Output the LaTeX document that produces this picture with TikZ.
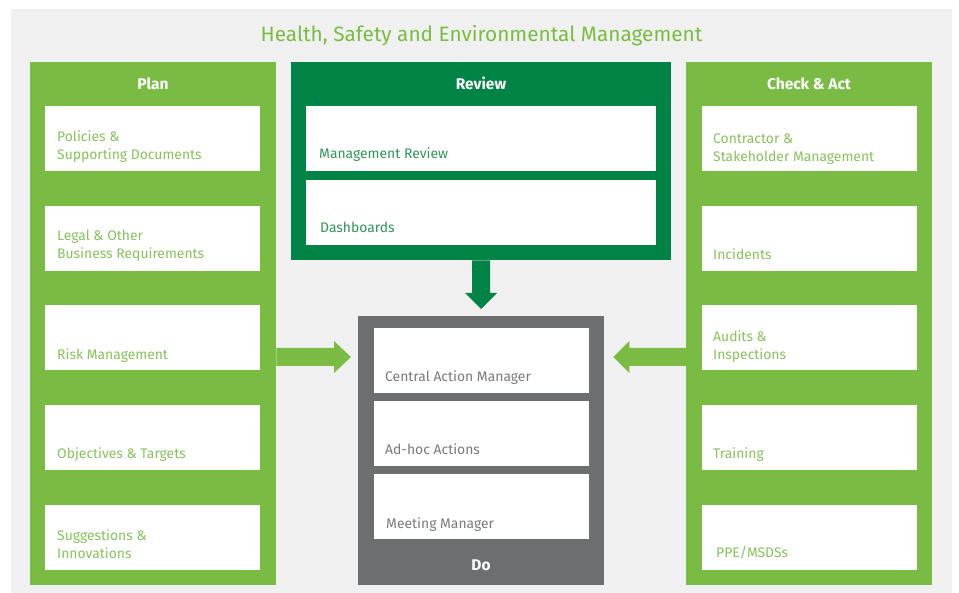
\documentclass[tikz,border=0pt]{standalone}
\usepackage{fontspec}
\setmainfont{Fira Sans}
\usetikzlibrary{calc}
\definecolor{bgc}{HTML}{F0F0F0}
\definecolor{lgreen}{HTML}{7ABC43}
\definecolor{dgreen}{HTML}{008445}
\definecolor{dogray}{HTML}{6D6E70}
\definecolor{ltxt}{HTML}{86C35B}
\definecolor{dtxt}{HTML}{2E9659}
\definecolor{gtxt}{HTML}{7A7A7A}
\begin{document}
\begin{tikzpicture}[x=1pt,y=-1pt,
  panel/.style={draw=none,inner sep=0,anchor=north west},
  wbox/.style={fill=white,draw=none,inner sep=0,anchor=north west,minimum height=65pt},
  hdr/.style={text=white,font=\fontsize{15.5}{18}\selectfont\bfseries,inner sep=0,anchor=base},
  btxt/.style={inner sep=0,anchor=south west,text depth=0pt,align=left,font=\fontsize{13.9}{18}\selectfont},
  ltext/.style={btxt,text=ltxt},
  rtext/.style={btxt,text=dtxt},
  dtext/.style={btxt,text=gtxt}
]
\useasboundingbox (0,0) rectangle (959,593);
\fill[bgc] (11,9) rectangle (952,593);
\node[inner sep=0,anchor=base,text=lgreen,font=\fontsize{20.8}{24}\selectfont] (title) at (481.5,42) {Health, Safety and Environmental Management};

% panels
\node[panel,fill=lgreen,minimum width=246pt,minimum height=523pt] (plan) at (30,62) {};
\node[panel,fill=dgreen,minimum width=380pt,minimum height=198pt] (review) at (291,62) {};
\node[panel,fill=lgreen,minimum width=246pt,minimum height=523pt] (check) at (686,62) {};
\node[panel,fill=dogray,minimum width=246pt,minimum height=269pt] (do) at (358,316) {};

\node[hdr] (planh) at (153,90) {Plan};
\node[hdr] (reviewh) at (481,90) {Review};
\node[hdr] (checkh) at (809,90) {Check \& Act};
\node[hdr] (doh) at (481,570) {Do};

% plan / check boxes
\foreach \i/\y in {1/106,2/206,3/305,4/405,5/505}{
  \node[wbox,minimum width=215pt] (p\i) at (45,\y) {};
  \node[wbox,minimum width=215pt] (c\i) at (702,\y) {};
}
\node[ltext] (p1t) at ($(p1.south west)+(12,-12)$) {Policies \&\\Supporting Documents};
\node[ltext] (p2t) at ($(p2.south west)+(12,-13)$) {Legal \& Other\\Business Requirements};
\node[ltext] (p3t) at ($(p3.south west)+(12,-11)$) {Risk Management};
\node[ltext] (p4t) at ($(p4.south west)+(12,-12)$) {Objectives \& Targets};
\node[ltext] (p5t) at ($(p5.south west)+(12,-12)$) {Suggestions \&\\Innovations};

\node[ltext] (c1t) at ($(c1.south west)+(11,-10)$) {Contractor \&\\Stakeholder Management};
\node[ltext] (c2t) at ($(c2.south west)+(11,-12)$) {Incidents};
\node[ltext] (c3t) at ($(c3.south west)+(11,-11)$) {Audits \&\\Inspections};
\node[ltext] (c4t) at ($(c4.south west)+(11,-12)$) {Training};
\node[ltext] (c5t) at ($(c5.south west)+(14,-13)$) {PPE/MSDSs};

% review boxes
\node[wbox,minimum width=350pt] (r1) at (306,106) {};
\node[wbox,minimum width=350pt] (r2) at (306,180) {};
\node[rtext] (r1t) at ($(r1.south west)+(13,-13)$) {Management Review};
\node[rtext] (r2t) at ($(r2.south west)+(14,-13)$) {Dashboards};

% do boxes
\node[wbox,minimum width=215pt] (d1) at (374,328) {};
\node[wbox,minimum width=215pt] (d2) at (374,401) {};
\node[wbox,minimum width=215pt] (d3) at (374,474) {};
\node[dtext] (d1t) at ($(d1.south west)+(11,-12)$) {Central Action Manager};
\node[dtext] (d2t) at ($(d2.south west)+(11,-12)$) {Ad-hoc Actions};
\node[dtext] (d3t) at ($(d3.south west)+(12,-11)$) {Meeting Manager};

% arrows
\coordinate (ly) at (0,357);
\coordinate (pa) at (plan.east |- ly);
\coordinate (pt) at ($(do.west |- ly)+(-7,0)$);
\fill[lgreen] ($(pa)+(0,-9)$) -- ($(pt)+(-17,-9)$) -- ($(pt)+(-17,-16)$) -- (pt)
  -- ($(pt)+(-17,16)$) -- ($(pt)+(-17,9)$) -- ($(pa)+(0,9)$) -- cycle;
\coordinate (ca) at (check.west |- ly);
\coordinate (ct) at ($(do.east |- ly)+(9,0)$);
\fill[lgreen] ($(ca)+(0,-9)$) -- ($(ct)+(16,-9)$) -- ($(ct)+(16,-16)$) -- (ct)
  -- ($(ct)+(16,16)$) -- ($(ct)+(16,9)$) -- ($(ca)+(0,9)$) -- cycle;
\coordinate (ra) at (review.south);
\coordinate (rt) at ($(do.north)+(0,-7)$);
\fill[dgreen] ($(ra)+(-9,0)$) -- ($(rt)+(-9,-16)$) -- ($(rt)+(-16,-16)$) -- (rt)
  -- ($(rt)+(16,-16)$) -- ($(rt)+(9,-16)$) -- ($(ra)+(9,0)$) -- cycle;
\end{tikzpicture}
\end{document}
